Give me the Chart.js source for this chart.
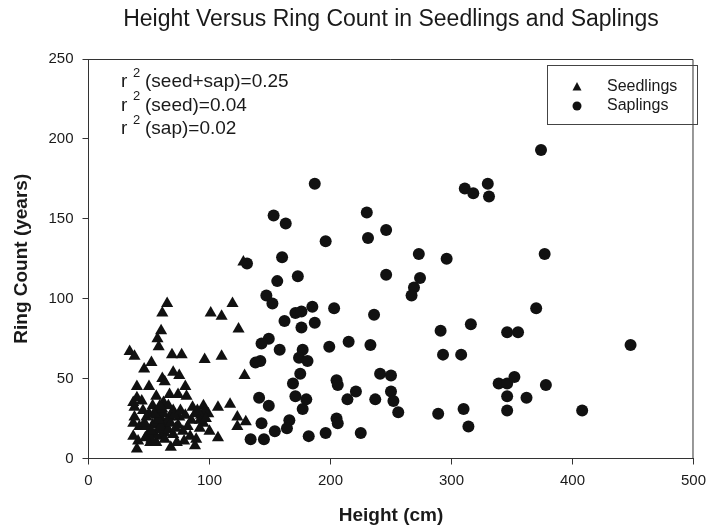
<!DOCTYPE html>
<html>
<head>
<meta charset="utf-8">
<script src="https://cdn.jsdelivr.net/npm/chart.js@4.4.1/dist/chart.umd.min.js"></script>
<style>
    html, body { margin: 0; padding: 0; background: #fff; }
    .chart-size { position: relative; width: 713px; height: 531px; }
</style>
</head>
<body>
<div class="chart-size">
    <canvas id="chart" width="713" height="531"></canvas>
</div>
<script>
// height (cm) and ring count (years) for each seedling
const seedlingHeight = [65, 61, 101, 119, 110, 124, 60, 57, 58, 34, 38, 52, 46, 69, 77, 96, 110, 129, 61, 70,
    75, 40, 50, 80, 56, 67, 81, 40, 95, 107, 117, 123, 130, 123, 38, 37, 37, 40, 68, 51,
    79, 89, 107, 128, 63, 44, 74, 37, 53, 62, 88, 99, 38, 48, 56, 67, 75, 95, 42, 53,
    64, 74, 82, 92, 100, 49, 60, 70, 41, 56, 73, 88, 57, 60, 55, 62, 58, 65, 50, 63,
    55, 60, 93, 96, 92, 45, 70, 66, 48, 78, 85, 52, 46, 52, 58, 61, 66, 68, 71, 76,
    80, 84, 86, 63, 59, 54, 47, 72, 90, 97];
const seedlingRings = [97, 91, 91, 97, 89, 81, 80, 75, 70, 67, 64, 60, 56, 65, 65, 62, 64, 52, 50, 54,
    52, 45, 45, 45, 39, 40, 39, 38, 33, 32, 34, 26, 23, 20, 32, 22, 14, 6, 7, 10,
    11, 12, 13, 123, 48, 36, 40, 35, 33, 35, 28, 28, 26, 26, 27, 26, 26, 22, 20, 21,
    20, 21, 20, 19, 17, 15, 14, 15, 11, 10, 10, 8, 30, 25, 22, 28, 18, 23, 28, 16,
    15, 20, 27, 30, 24, 30, 30, 33, 20, 17, 24, 12, 22, 17, 24, 31, 18, 22, 27, 30,
    27, 14, 32, 12, 33, 28, 13, 19, 30, 25];

// height (cm) and ring count (years) for each sapling
const saplingHeight = [131, 187, 153, 163, 196, 160, 173, 156, 147, 152, 185, 171, 176, 187, 162, 176, 149, 143, 158, 177,
    174, 181, 142, 138, 199, 175, 169, 171, 180, 177, 141, 149, 143, 166, 164, 154, 134, 145, 182, 196,
    311, 318, 330, 331, 230, 231, 246, 273, 296, 246, 274, 269, 267, 203, 236, 291, 316, 346, 355, 215,
    233, 293, 308, 241, 250, 205, 206, 221, 214, 237, 250, 252, 256, 339, 346, 352, 346, 346, 205, 206,
    225, 289, 310, 314, 374, 377, 370, 448, 378, 362, 408];
const saplingRings = [122, 172, 152, 147, 136, 126, 114, 111, 102, 97, 95, 91, 92, 85, 86, 82, 75, 72, 68, 68,
    63, 61, 61, 60, 70, 53, 47, 39, 37, 31, 38, 33, 22, 24, 19, 17, 12, 12, 14, 16,
    169, 166, 172, 164, 154, 138, 143, 128, 125, 115, 113, 107, 102, 94, 90, 80, 84, 79, 79, 73,
    71, 65, 65, 53, 52, 49, 46, 42, 37, 37, 42, 36, 29, 47, 47, 51, 39, 30, 25, 22,
    16, 28, 31, 20, 193, 128, 94, 71, 46, 38, 30];

const xTicks = [0, 100, 200, 300, 400, 500];
const yTicks = [0, 50, 100, 150, 200, 250];
const fitLines = ['(seed+sap)=0.25', '(seed)=0.04', '(sap)=0.02'];

const FONT = "'Liberation Sans', Arial, sans-serif";
const INK = '#111';

function toPoints(xs, ys) {
    return xs.map((x, i) => ({ x: x, y: ys[i] }));
}

// box around the plot area, r-squared notes and the framed legend
const decorations = {
    id: 'decorations',
    afterDraw(chart) {
        const ctx = chart.ctx;
        const a = chart.chartArea;
        ctx.save();
        ctx.strokeStyle = '#333';
        ctx.lineWidth = 1;
        ctx.beginPath();
        ctx.moveTo(a.left, a.top + 0.5);
        ctx.lineTo(a.right - 0.5, a.top + 0.5);
        ctx.lineTo(a.right - 0.5, a.bottom);
        ctx.stroke();

        ctx.fillStyle = '#1a1a1a';
        ctx.textBaseline = 'middle';
        fitLines.forEach((txt, i) => {
            const y = 82 + i * 23.5;
            ctx.font = '19px ' + FONT;
            ctx.fillText('r', 121, y);
            ctx.font = '13px ' + FONT;
            ctx.fillText('2', 133, y - 9);
            ctx.font = '19px ' + FONT;
            ctx.fillText(txt, 145, y);
        });

        ctx.strokeStyle = '#444';
        ctx.strokeRect(547.5, 65.5, 150, 59);
        ctx.font = '16px ' + FONT;
        chart.data.datasets.forEach((ds, i) => {
            const y = 87 + i * 19;
            ctx.fillStyle = INK;
            ctx.beginPath();
            if (ds.pointStyle === 'triangle') {
                ctx.moveTo(577, y - 5);
                ctx.lineTo(581.5, y + 3.5);
                ctx.lineTo(572.5, y + 3.5);
                ctx.closePath();
            } else {
                ctx.arc(577, y, 4.5, 0, Math.PI * 2);
            }
            ctx.fill();
            ctx.fillStyle = '#1a1a1a';
            ctx.fillText(ds.label, 607, y);
        });
        ctx.restore();
    }
};

const ctx = document.getElementById('chart').getContext('2d');
const chart = new Chart(ctx, {
    type: 'scatter',
    data: {
        datasets: [{
            label: 'Seedlings',
            data: toPoints(seedlingHeight, seedlingRings),
            pointStyle: 'triangle',
            pointRadius: 7,
            backgroundColor: INK,
            borderColor: INK,
            borderWidth: 0
        }, {
            label: 'Saplings',
            data: toPoints(saplingHeight, saplingRings),
            pointStyle: 'circle',
            pointRadius: 6,
            backgroundColor: INK,
            borderColor: INK,
            borderWidth: 0
        }]
    },
    options: {
        responsive: false,
        animation: false,
        layout: { padding: { left: 0, right: 15, top: 0, bottom: 0 } },
        plugins: {
            legend: { display: false },
            tooltip: { enabled: false },
            title: {
                display: true,
                fullSize: false,
                text: 'Height Versus Ring Count in Seedlings and Saplings',
                color: '#1a1a1a',
                font: { family: FONT, size: 23, weight: 'normal' },
                padding: { top: 6, bottom: 25.4 }
            }
        },
        scales: {
            x: {
                type: 'linear',
                min: 0,
                max: 500,
                afterBuildTicks: (scale) => { scale.ticks = xTicks.map(v => ({ value: v })); },
                afterFit: (scale) => { scale.height = 72.5; },
                grid: { display: true, drawOnChartArea: false, drawTicks: true, tickLength: 6, color: '#333' },
                border: { display: true, color: '#333', width: 1 },
                ticks: { color: '#1a1a1a', padding: 7, maxRotation: 0, font: { family: FONT, size: 15 } },
                title: {
                    display: true,
                    text: 'Height (cm)',
                    color: '#1a1a1a',
                    font: { family: FONT, size: 19, weight: 'bold' },
                    padding: { top: 0, bottom: 4 }
                }
            },
            y: {
                type: 'linear',
                min: 0,
                max: 250,
                afterBuildTicks: (scale) => { scale.ticks = yTicks.map(v => ({ value: v })); },
                afterFit: (scale) => { scale.width = 88.5; },
                grid: { display: true, drawOnChartArea: false, drawTicks: true, tickLength: 6, color: '#333' },
                border: { display: true, color: '#333', width: 1 },
                ticks: { color: '#1a1a1a', padding: 9, font: { family: FONT, size: 15 } },
                title: {
                    display: true,
                    text: 'Ring Count (years)',
                    color: '#1a1a1a',
                    font: { family: FONT, size: 19, weight: 'bold' },
                    padding: { top: 10, bottom: 0 }
                }
            }
        }
    },
    plugins: [decorations]
});
</script>
</body>
</html>
